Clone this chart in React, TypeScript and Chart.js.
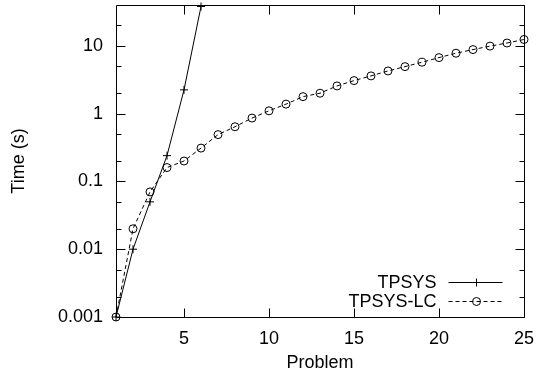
import React, { useEffect, useRef } from 'react';
import { Chart, registerables } from 'chart.js';

Chart.register(...registerables);

const problems = [1, 2, 3, 4, 5, 6, 7, 8, 9, 10, 11, 12, 13, 14, 15, 16, 17, 18, 19, 20, 21, 22, 23, 24, 25];
const tpsysProblems = [1, 2, 3, 4, 5, 6];
const tpsysTimes = [0.001, 0.01, 0.05, 0.24, 2.24, 38];
const tpsysLcTimes = [0.001, 0.02, 0.07, 0.16, 0.2, 0.31, 0.49, 0.64, 0.86, 1.1, 1.38, 1.78, 2.0, 2.56, 3.07, 3.6, 4.26, 4.93, 5.73, 6.7, 7.78, 8.8, 9.9, 11, 12.4];
const seriesNames = ['TPSYS', 'TPSYS-LC'];
const xTickValues = [5, 10, 15, 20, 25];
const yTickValues = [0.001, 0.01, 0.1, 1, 10];
const yTickLabels = ['0.001', '0.01', '0.1', '1', '10'];
const yMinorValues = [0.002, 0.005, 0.02, 0.05, 0.2, 0.5, 2, 5, 20];
const xTitle = 'Problem';
const yTitle = 'Time (s)';

const FONT = "'Liberation Sans', Arial, sans-serif";
const FONT_SIZE = 18;

const framePlugin = {
  id: 'gnuFrame',
  afterDraw(chart: any) {
    const { ctx, chartArea } = chart;
    const xs = chart.scales.x;
    const ys = chart.scales.y;
    const L = Math.round(chartArea.left) + 0.5;
    const R = Math.round(chartArea.right) + 0.5;
    const T = Math.round(chartArea.top) + 0.5;
    const B = Math.round(chartArea.bottom) + 0.5;
    ctx.save();
    ctx.strokeStyle = '#000';
    ctx.lineWidth = 1;
    ctx.setLineDash([]);
    ctx.beginPath();
    ctx.rect(L, T, R - L, B - T);
    ctx.stroke();
    ctx.beginPath();
    for (const v of xTickValues) {
      const px = Math.round(xs.getPixelForValue(v)) + 0.5;
      ctx.moveTo(px, B); ctx.lineTo(px, B - 9);
      ctx.moveTo(px, T); ctx.lineTo(px, T + 9);
    }
    for (const v of yTickValues) {
      const py = Math.round(ys.getPixelForValue(v)) + 0.5;
      ctx.moveTo(L, py); ctx.lineTo(L + 9, py);
      ctx.moveTo(R, py); ctx.lineTo(R - 9, py);
    }
    for (const v of yMinorValues) {
      const py = Math.round(ys.getPixelForValue(v)) + 0.5;
      ctx.moveTo(L, py); ctx.lineTo(L + 5, py);
      ctx.moveTo(R, py); ctx.lineTo(R - 5, py);
    }
    ctx.stroke();

    // legend (gnuplot style: text right-aligned, then sample)
    const textRight = R - 88;
    const sampleL = R - 76;
    const sampleR = R - 22;
    const rows = [B - 36, B - 17];
    ctx.font = `${FONT_SIZE}px ${FONT}`;
    ctx.fillStyle = '#000';
    ctx.textAlign = 'right';
    ctx.textBaseline = 'middle';
    chart.data.datasets.forEach((ds: any, i: number) => {
      const y = Math.round(rows[i]) + 0.5;
      ctx.fillText(seriesNames[i], textRight, y + 1);
      ctx.beginPath();
      ctx.setLineDash(ds.borderDash || []);
      ctx.lineWidth = ds.borderWidth;
      ctx.strokeStyle = ds.borderColor;
      ctx.moveTo(sampleL, y);
      ctx.lineTo(sampleR, y);
      ctx.stroke();
      ctx.setLineDash([]);
      const cx = Math.round((sampleL + sampleR) / 2) + 0.5;
      const r = ds.pointRadius;
      ctx.beginPath();
      if (ds.pointStyle === 'cross') {
        ctx.moveTo(cx - r, y); ctx.lineTo(cx + r, y);
        ctx.moveTo(cx, y - r); ctx.lineTo(cx, y + r);
      } else {
        ctx.arc(cx, y, r, 0, Math.PI * 2);
      }
      ctx.stroke();
    });
    ctx.restore();
  },
};

const zeroPad = (scale: any) => {
  scale.paddingTop = 0;
  scale.paddingBottom = 0;
  scale.paddingLeft = 0;
  scale.paddingRight = 0;
};

export default function App() {
  const canvasRef = useRef<HTMLCanvasElement | null>(null);

  useEffect(() => {
    document.body.style.margin = '0';
    const canvas = canvasRef.current;
    if (!canvas) return;
    Chart.defaults.font.family = FONT;
    Chart.defaults.font.size = FONT_SIZE;
    Chart.defaults.color = '#000';

    const chart = new Chart(canvas, {
      type: 'line',
      data: {
        datasets: [
          {
            label: seriesNames[0],
            data: tpsysProblems.map((p, i) => ({ x: p, y: tpsysTimes[i] })),
            borderColor: '#000',
            borderWidth: 1,
            pointStyle: 'cross',
            pointRadius: 4,
            pointBorderWidth: 1,
            pointBorderColor: '#000',
            pointBackgroundColor: 'rgba(0,0,0,0)',
            fill: false,
            tension: 0,
            clip: false,
          },
          {
            label: seriesNames[1],
            data: problems.map((p, i) => ({ x: p, y: tpsysLcTimes[i] })),
            borderColor: '#000',
            borderWidth: 1,
            borderDash: [4, 3],
            pointStyle: 'circle',
            pointRadius: 4,
            pointBorderWidth: 1,
            pointBorderColor: '#000',
            pointBackgroundColor: 'rgba(0,0,0,0)',
            fill: false,
            tension: 0,
            clip: false,
          },
        ],
      },
      options: {
        animation: false,
        responsive: false,
        maintainAspectRatio: false,
        layout: { padding: { top: 5, right: 13, left: 0, bottom: 0 } },
        plugins: {
          legend: { display: false },
          tooltip: { enabled: false },
        },
        scales: {
          x: {
            type: 'linear',
            min: 1,
            max: 25,
            grid: { display: false, drawTicks: false },
            border: { display: false },
            afterBuildTicks: (scale: any) => {
              scale.ticks = xTickValues.map((v) => ({ value: v }));
            },
            afterFit: (scale: any) => {
              scale.height = 63;
              zeroPad(scale);
            },
            ticks: {
              padding: 11,
              maxRotation: 0,
              autoSkip: false,
              callback: (v: any) => String(v),
            },
            title: {
              display: true,
              text: xTitle,
              padding: { top: 0, bottom: 6 },
            },
          },
          y: {
            type: 'logarithmic',
            min: 0.001,
            max: 40,
            grid: { display: false, drawTicks: false },
            border: { display: false },
            afterBuildTicks: (scale: any) => {
              scale.ticks = yTickValues.map((v) => ({ value: v }));
            },
            afterFit: (scale: any) => {
              scale.width = 116;
              zeroPad(scale);
            },
            ticks: {
              padding: 13,
              autoSkip: false,
              callback: (v: any) => {
                const idx = yTickValues.indexOf(Number(v));
                return idx >= 0 ? yTickLabels[idx] : '';
              },
            },
            title: {
              display: true,
              text: yTitle,
              padding: { top: 8, bottom: 0 },
            },
          },
        },
      },
      plugins: [framePlugin],
    });
    return () => chart.destroy();
  }, []);

  return (
    <div style={{ width: 537, height: 380, background: '#fff' }}>
      <canvas ref={canvasRef} width={537} height={380} style={{ display: 'block' }} />
    </div>
  );
}
